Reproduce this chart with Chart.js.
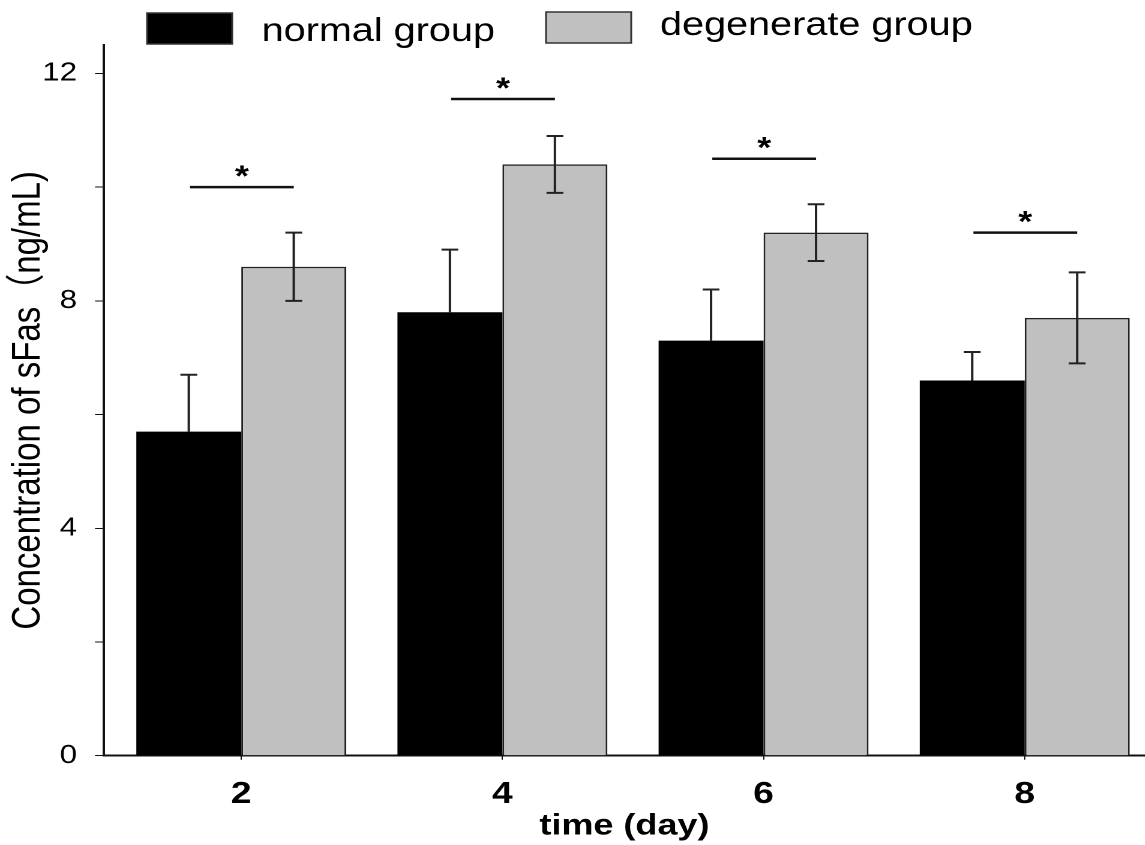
<!DOCTYPE html>
<html>
<head>
<meta charset="utf-8">
<script src="https://cdn.jsdelivr.net/npm/chart.js@4.4.1/dist/chart.umd.min.js"></script>
<style>
  html, body { margin: 0; padding: 0; background: #fff; overflow: hidden; }
  #wrap { width: 954px; height: 845px; transform: scaleX(1.2); transform-origin: 0 0; }
  #chart { width: 954px; height: 845px; display: block; }
</style>
</head>
<body>
<div id="wrap"><canvas id="chart" width="954" height="845"></canvas></div>
<script>
'use strict';

// days of measurement
var days = [2, 4, 6, 8];

// mean concentration of sFas (ng/mL)
var normalMean = [5.7, 7.8, 7.3, 6.6];
var degenerateMean = [8.6, 10.4, 9.2, 7.7];

// error bar half-lengths
var normalErr = [1.0, 1.1, 0.9, 0.5];
var degenerateErr = [0.6, 0.5, 0.5, 0.8];

// height of the "*" significance line for each day
var sigLevel = [10.0, 11.55, 10.5, 9.2];

var yTicks = [0, 4, 8, 12];

var fontFamily = '"Liberation Sans", Arial, "Noto Sans CJK SC", sans-serif';

function toPoints(values) {
    return days.map(function (d, i) {
        return { x: d, y: values[i] };
    });
}

// error bars: normal group only upward, degenerate group both ways
var errorBars = {
    id: 'errorBars',
    afterDatasetsDraw: function (chart) {
        var ctx = chart.ctx,
            y = chart.scales.y;
        var sets = [
            { means: normalMean, errs: normalErr, both: false },
            { means: degenerateMean, errs: degenerateErr, both: true }
        ];
        ctx.save();
        ctx.strokeStyle = '#222';
        ctx.lineWidth = 2;
        sets.forEach(function (s, di) {
            chart.getDatasetMeta(di).data.forEach(function (bar, i) {
                var top = y.getPixelForValue(s.means[i] + s.errs[i]);
                var bottom = s.both ? y.getPixelForValue(s.means[i] - s.errs[i]) : bar.y;
                ctx.beginPath();
                ctx.moveTo(bar.x, top);
                ctx.lineTo(bar.x, bottom);
                ctx.moveTo(bar.x - 7, top);
                ctx.lineTo(bar.x + 7, top);
                if (s.both) {
                    ctx.moveTo(bar.x - 7, bottom);
                    ctx.lineTo(bar.x + 7, bottom);
                }
                ctx.stroke();
            });
        });
        ctx.restore();
    }
};

// significance markers between the two bars of each day
var sigMarks = {
    id: 'sigMarks',
    afterDatasetsDraw: function (chart) {
        var ctx = chart.ctx,
            y = chart.scales.y,
            a = chart.getDatasetMeta(0).data,
            b = chart.getDatasetMeta(1).data;
        ctx.save();
        ctx.strokeStyle = '#111';
        ctx.fillStyle = '#000';
        ctx.lineWidth = 2.5;
        ctx.font = 'bold 30px ' + fontFamily;
        ctx.textAlign = 'center';
        ctx.textBaseline = 'alphabetic';
        sigLevel.forEach(function (lv, i) {
            var py = y.getPixelForValue(lv);
            var x1 = a[i].x + 1, x2 = b[i].x;
            ctx.beginPath();
            ctx.moveTo(x1, py);
            ctx.lineTo(x2, py);
            ctx.stroke();
            ctx.fillText('*', (x1 + x2) / 2, py - 1);
        });
        ctx.restore();
    }
};

// legend drawn by hand: wide box, label to its right
var topLegend = {
    id: 'topLegend',
    afterDraw: function (chart) {
        var ctx = chart.ctx;
        var spots = [
            { box: 122.5, text: 218, top: 13, baseline: 41 },
            { box: 455, text: 550, top: 12, baseline: 35 }
        ];
        ctx.save();
        ctx.font = '33px ' + fontFamily;
        ctx.textAlign = 'left';
        ctx.textBaseline = 'alphabetic';
        chart.data.datasets.forEach(function (ds, i) {
            var s = spots[i];
            ctx.fillStyle = ds.backgroundColor;
            ctx.fillRect(s.box, s.top, 71, 31);
            ctx.strokeStyle = '#333';
            ctx.lineWidth = 1.5;
            ctx.strokeRect(s.box, s.top, 71, 31);
            ctx.fillStyle = '#000';
            ctx.fillText(ds.label, s.text, s.baseline);
        });
        ctx.restore();
    }
};

var context = document.getElementById('chart').getContext('2d');

var chart = new Chart(context, {
    type: 'bar',
    data: {
        datasets: [{
            label: 'normal group',
            data: toPoints(normalMean),
            backgroundColor: '#000000',
            borderColor: '#333333',
            borderWidth: 0
        }, {
            label: 'degenerate group',
            data: toPoints(degenerateMean),
            backgroundColor: '#c0c0c0',
            borderColor: '#222222',
            borderWidth: 1.5
        }]
    },
    options: {
        responsive: false,
        animation: false,
        devicePixelRatio: 2,
        datasets: {
            bar: {
                categoryPercentage: 0.804,
                barPercentage: 1.0
            }
        },
        layout: {
            padding: { top: 45, left: 0, right: 0, bottom: 0 }
        },
        plugins: {
            tooltip: { enabled: false },
            legend: { display: false }
        },
        scales: {
            x: {
                type: 'linear',
                min: 0.949,
                max: 8.92,
                offset: false,
                border: { display: true, color: '#111', width: 2 },
                grid: {
                    offset: false,
                    drawOnChartArea: false,
                    drawTicks: true,
                    tickLength: 4,
                    color: '#111'
                },
                ticks: {
                    stepSize: 2,
                    includeBounds: false,
                    padding: 16,
                    color: '#000',
                    font: { family: fontFamily, size: 31, weight: 'bold' },
                    callback: function (v) { return days.indexOf(v) >= 0 ? String(v) : ''; }
                },
                title: {
                    display: true,
                    text: 'time (day)',
                    color: '#000',
                    padding: { top: 0, bottom: 1 },
                    font: { family: fontFamily, size: 30, weight: 'bold' }
                },
                afterFit: function (scale) { scale.height = 89.3; }
            },
            y: {
                min: 0,
                max: 12.5,
                border: { display: true, color: '#111', width: 2 },
                grid: {
                    drawOnChartArea: false,
                    drawTicks: true,
                    tickLength: 7.5,
                    color: '#111'
                },
                ticks: {
                    stepSize: 2,
                    includeBounds: false,
                    padding: 15,
                    color: '#000',
                    font: { family: fontFamily, size: 26 },
                    callback: function (v) { return yTicks.indexOf(v) >= 0 ? String(v) : ''; }
                },
                title: {
                    display: true,
                    text: 'Concentration of sFas（ng/mL)',
                    color: '#000',
                    padding: { top: 4, bottom: 0 },
                    font: { family: fontFamily, size: 33 }
                },
                afterFit: function (scale) { scale.width = 86.7; }
            }
        }
    },
    plugins: [errorBars, sigMarks, topLegend]
});
</script>
</body>
</html>
